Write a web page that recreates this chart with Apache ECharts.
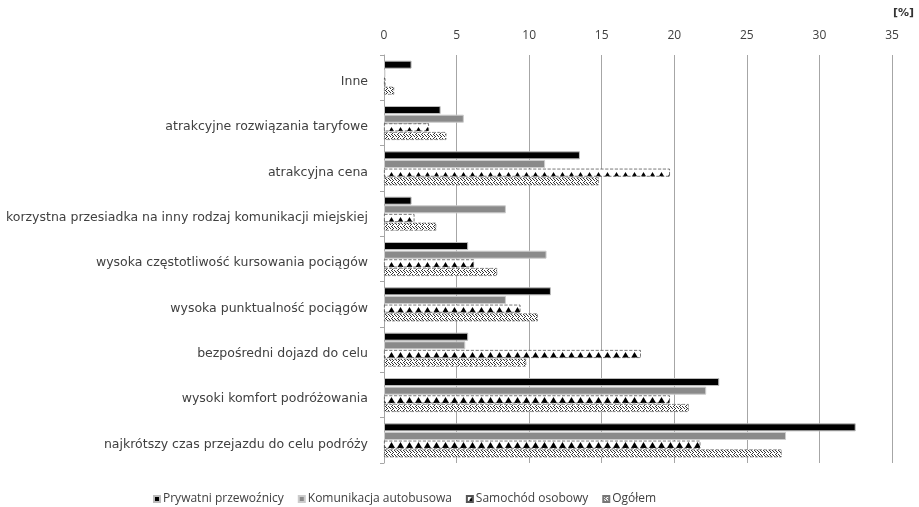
<!DOCTYPE html>
<html><head><meta charset="utf-8">
<script src="https://cdn.jsdelivr.net/npm/echarts@6/dist/echarts.min.js"></script>
<style>html,body{margin:0;padding:0;background:#fff}#c{width:919px;height:507px}</style>
</head><body><div id="c"></div>
<script>
const categories = [
  'Inne',
  'atrakcyjne rozwiązania taryfowe',
  'atrakcyjna cena',
  'korzystna przesiadka na inny rodzaj komunikacji miejskiej',
  'wysoka częstotliwość kursowania pociągów',
  'wysoka punktualność pociągów',
  'bezpośredni dojazd do celu',
  'wysoki komfort podróżowania',
  'najkrótszy czas przejazdu do celu podróży'
];
const seriesNames = ['Prywatni przewoźnicy', 'Komunikacja autobusowa', 'Samochód osobowy', 'Ogółem'];
const prywatni = [1.9, 3.9, 13.5, 1.9, 5.8, 11.5, 5.8, 23.1, 32.5];
const autobus  = [0.1, 5.5, 11.1, 8.4, 11.2, 8.4, 5.6, 22.2, 27.7];
const samochod = [0.1, 3.1, 19.7, 2.1, 6.2, 9.4, 17.7, 19.7, 21.8];
const ogolem   = [0.7, 4.3, 14.8, 3.6, 7.8, 10.6, 9.8, 21.0, 27.4];
const xTicks = [0, 5, 10, 15, 20, 25, 30, 35];

function triPattern() {
  const c = document.createElement('canvas');
  c.width = 9; c.height = 9;
  const g = c.getContext('2d');
  g.fillStyle = '#fff'; g.fillRect(0, 0, 9, 9);
  g.fillStyle = '#000';
  g.beginPath(); g.moveTo(1, 7); g.lineTo(4.5, 1); g.lineTo(8, 7); g.closePath(); g.fill();
  return c;
}
function dotPattern() {
  const c = document.createElement('canvas');
  c.width = 6; c.height = 4;
  const g = c.getContext('2d');
  g.fillStyle = '#fff'; g.fillRect(0, 0, 6, 4);
  g.fillStyle = '#333';
  g.fillRect(0, 0, 1, 1); g.fillRect(2, 1, 1, 1); g.fillRect(3, 0, 1, 1);
  g.fillRect(1, 2, 1, 1); g.fillRect(4, 2, 1, 1); g.fillRect(5, 3, 1, 1); g.fillRect(2, 3, 1, 1);
  return c;
}
const triImg = triPattern();
const dotImg = dotPattern();

const chart = echarts.init(document.getElementById('c'), null, {renderer: 'canvas'});
const font = 'DejaVu Sans';
const styles = [
  {color: '#000', borderColor: '#bbb', borderWidth: 1},
  {color: '#8a8a8a', borderColor: '#ccc', borderWidth: 1},
  {color: {image: triImg, repeat: 'repeat'}, borderColor: '#555', borderWidth: 0.8, borderType: 'dashed'},
  {color: {image: dotImg, repeat: 'repeat'}, borderColor: '#777', borderWidth: 0.8, borderType: 'dashed'}
];
const dataSets = [prywatni, autobus, samochod, ogolem];

chart.setOption({
  animation: false,
  textStyle: {fontFamily: font},
  grid: {left: 384, right: 27, top: 55, bottom: 44, containLabel: false},
  graphic: [{type: 'text', right: 5, top: 8, style: {text: '[%]', fontSize: 11, fontWeight: 'bold', fill: '#333', fontFamily: font}}],
  legend: {
    left: 148, top: 488, itemWidth: 6, itemHeight: 6, itemGap: 14,
    textStyle: {fontSize: 12, color: '#404040', fontFamily: 'Open Sans', padding: [0, 0, 0, -2]},
    data: seriesNames.map(n => ({name: n, icon: 'rect'}))
  },
  xAxis: {
    type: 'value', position: 'top', min: 0, max: 35, interval: 5,
    axisLine: {show: false},
    axisTick: {show: false},
    axisLabel: {fontSize: 12, color: '#404040', margin: 13, fontFamily: 'Open Sans', formatter: v => xTicks.includes(v) ? String(v) : ''},
    splitLine: {show: true, lineStyle: {color: '#a6a6a6', width: 1}}
  },
  yAxis: {
    type: 'category', data: categories, inverse: true,
    axisLine: {show: true, lineStyle: {color: '#a6a6a6'}},
    axisTick: {show: true, length: 4, lineStyle: {color: '#a6a6a6'}},
    axisLabel: {
      margin: 16,
      formatter: v => '{a|' + v + '}',
      rich: {a: {fontSize: 12.5, color: '#404040', fontFamily: font, padding: [8, 0, 0, 0]}}
    }
  },
  series: seriesNames.map((n, i) => ({
    name: n, type: 'bar', data: dataSets[i],
    barCategoryGap: '25%', barGap: '8%',
    itemStyle: styles[i]
  }))
});
</script></body></html>
